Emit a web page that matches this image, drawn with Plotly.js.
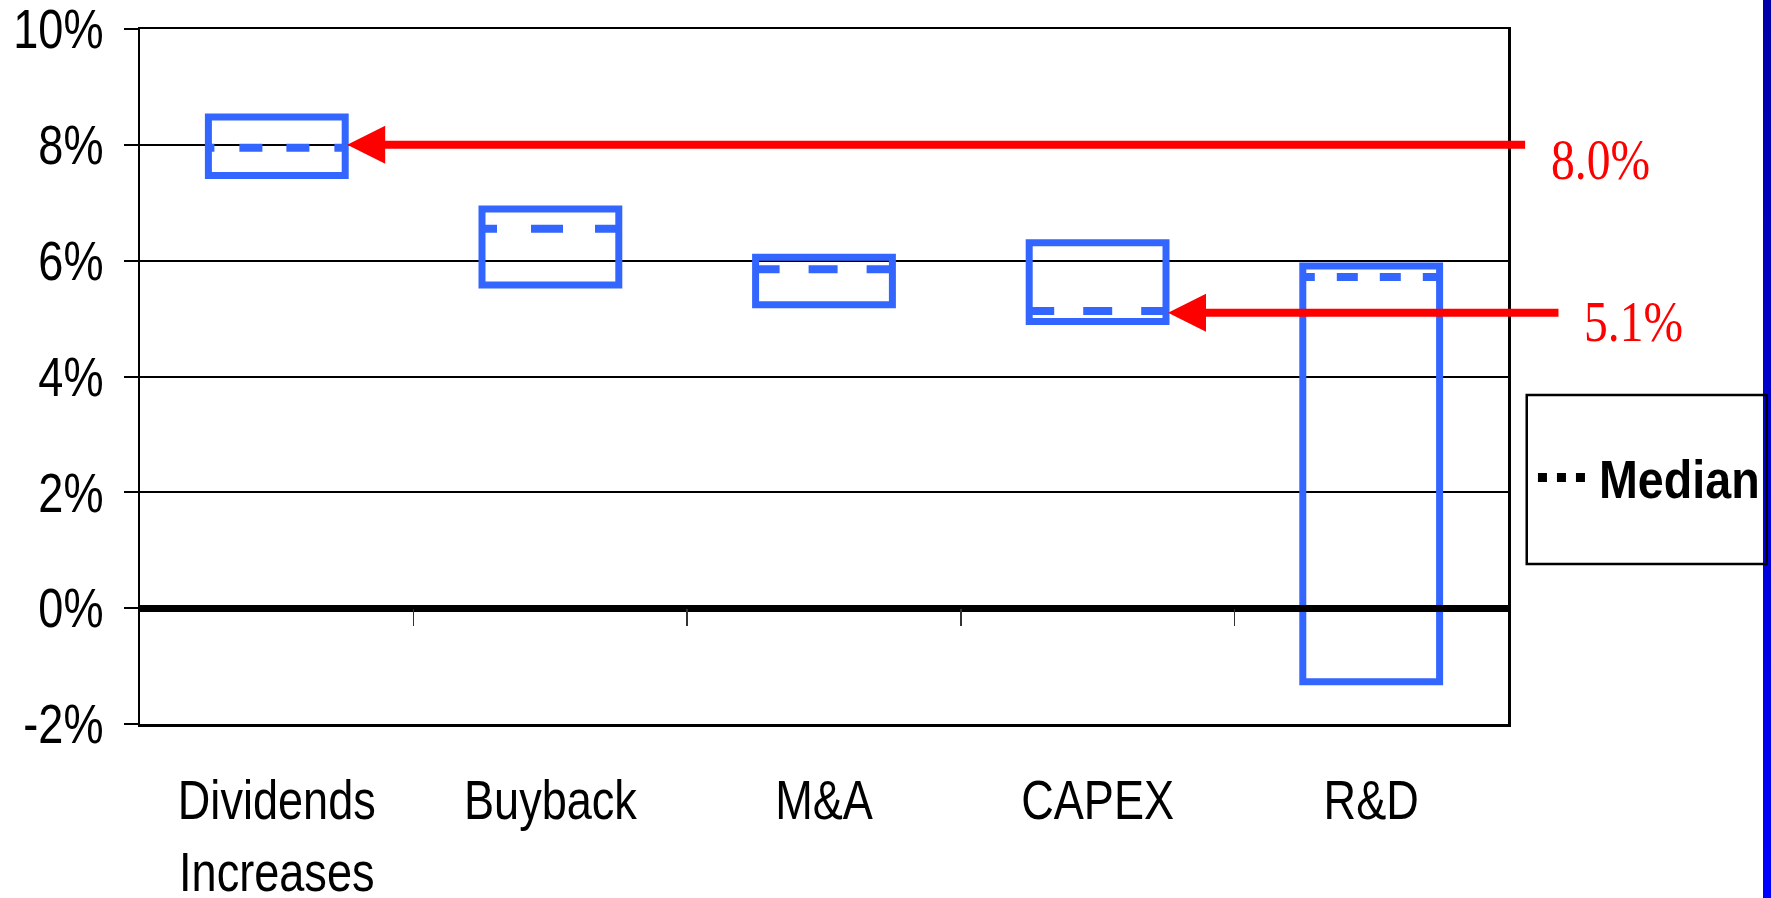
<!DOCTYPE html>
<html>
<head>
<meta charset="utf-8">
<script src="https://cdn.plot.ly/plotly-3.0.1.min.js"></script>
<style>
  html, body { margin: 0; padding: 0; background: #fff; }
  #chart {
    width: 1771px; height: 898px;
    background: linear-gradient(to bottom, #0000a8, #0000ff) right top / 8px 100% no-repeat, #ffffff;
  }
</style>
</head>
<body>
<div id="chart"></div>
<script>
// Spread of growth in each capital-allocation choice
const categories = ['Dividends<br>Increases', 'Buyback', 'M&A', 'CAPEX', 'R&D'];
const rangeHigh = [8.48, 6.89, 6.06, 6.31, 5.91];
const rangeLow = [7.47, 5.58, 5.24, 4.95, -1.27];
const medians = [7.95, 6.55, 5.85, 5.13, 5.72];

// Call-out arrows: which category they point at and the value they mark
const calloutCategory = [0, 3];
const calloutValue = [8.0, 5.1];

const yTickVals = [-2, 0, 2, 4, 6, 8, 10];
const yTickText = ['-2%', '0%', '2%', '4%', '6%', '8%', '10%'];

const medianLabel = 'Median';

// ---- styling ----
const BLUE = '#3366ff';
const RED = '#ff0000';
const SANS = "'Liberation Sans', Arial, sans-serif";
const SERIF = "'Liberation Serif', 'Times New Roman', serif";
const CONDENSE = 0.82;          // horizontal squeeze giving a narrow face
const KEY_CONDENSE = 0.88;
const boxWidth = 0.5;
const yRange = [-2, 10];
const xRange = [-0.5, categories.length - 0.5];
// dash rhythm of each median line
const medianDash = [
  '6px,25px,23px,24px,23px,25px,23px,25px',
  '15px,34px,32px,32px,32px,32px',
  '24px,29px,29px,29px,29px,29px',
  '25px,29px,29px,29px,29px,29px',
  '12px,22px,21px,22px,21px,22px,21px,22px'
];
// where each call-out arrow starts (x, beyond the last category) and its label
const calloutTailX = [4.568, 4.69];
const calloutLabelX = [1.030, 1.054];
const calloutLabelShift = [-15, -9];

const xIdx = categories.map((_, i) => i);

const traces = [];

// range boxes: outline-only floating bars
traces.push({
  type: 'bar',
  x: xIdx,
  base: rangeLow,
  y: rangeHigh.map((h, i) => h - rangeLow[i]),
  width: boxWidth,
  marker: { color: 'rgba(0,0,0,0)', line: { color: BLUE, width: 7 } },
  showlegend: false,
  hoverinfo: 'skip'
});

// median lines across each box
medians.forEach((m, i) => {
  traces.push({
    type: 'scatter',
    mode: 'lines',
    x: [i - boxWidth / 2, i + boxWidth / 2],
    y: [m, m],
    line: { color: BLUE, width: 8, dash: medianDash[i] },
    showlegend: false,
    hoverinfo: 'skip'
  });
});

// carrier for the category divider ticks sitting on the zero line
traces.push({
  type: 'scatter', mode: 'lines', x: [null], y: [null],
  xaxis: 'x2', showlegend: false, hoverinfo: 'skip'
});

const annotations = [];
calloutCategory.forEach((c, k) => {
  annotations.push({
    xref: 'x', yref: 'y', axref: 'x', ayref: 'y',
    x: c + boxWidth / 2, y: calloutValue[k],
    ax: calloutTailX[k], ay: calloutValue[k],
    text: '', showarrow: true,
    arrowhead: 2, arrowsize: 0.95, arrowwidth: 8, arrowcolor: RED,
    standoff: 2
  });
  annotations.push({
    xref: 'paper', yref: 'y',
    x: calloutLabelX[k], y: calloutValue[k],
    xanchor: 'left', yanchor: 'middle', yshift: calloutLabelShift[k],
    text: calloutValue[k].toFixed(1) + '%',
    showarrow: false,
    font: { family: SERIF, size: 58, color: RED }
  });
});

// key for the median line
annotations.push({
  xref: 'paper', yref: 'paper', x: 1.065, y: 0.3525,
  xanchor: 'left', yanchor: 'middle', showarrow: false,
  text: '<b>' + medianLabel + '</b>',
  font: { family: SANS, size: 53, color: '#000' },
  name: 'key'
});

const layout = {
  width: 1771, height: 898,
  margin: { l: 140, r: 263, t: 29, b: 174, pad: 0 },
  paper_bgcolor: 'rgba(0,0,0,0)',
  plot_bgcolor: 'rgba(0,0,0,0)',
  bargap: 0,
  showlegend: false,
  font: { family: SANS, color: '#000', size: 55 },
  xaxis: {
    range: xRange, tickvals: xIdx, ticktext: categories,
    ticks: '', showgrid: false, zeroline: false,
    showline: true, mirror: true, linecolor: '#000', linewidth: 2.5,
    tickfont: { family: SANS, size: 55, color: '#000' },
    ticklabelstandoff: 27,
    ticklabeloverflow: 'allow',
    fixedrange: true
  },
  xaxis2: {
    overlaying: 'x', anchor: 'free',
    position: (0 - yRange[0]) / (yRange[1] - yRange[0]),
    range: xRange,
    tickvals: xIdx.slice(1).map(i => i - 0.5),
    ticks: 'outside', ticklen: 17, tickwidth: 1.5, tickcolor: '#333',
    showticklabels: false, showgrid: false, zeroline: false, showline: false,
    fixedrange: true
  },
  yaxis: {
    range: yRange, tickvals: yTickVals, ticktext: yTickText,
    showgrid: true, gridcolor: '#000', gridwidth: 2,
    zeroline: true, zerolinecolor: '#000', zerolinewidth: 7,
    zerolinelayer: 'above traces',
    showline: true, mirror: true, linecolor: '#000', linewidth: 2.5,
    ticks: 'outside', ticklen: 14, tickwidth: 2, tickcolor: '#000',
    tickfont: { family: SANS, size: 55, color: '#000' },
    ticklabelstandoff: 9,
    ticklabeloverflow: 'allow',
    fixedrange: true
  },
  shapes: [
    { // key frame
      type: 'rect', xref: 'paper', yref: 'paper',
      x0: 1.0137, x1: 1.1891, y0: 0.2302, y1: 0.4734,
      line: { color: '#000', width: 2.5 }, fillcolor: 'rgba(0,0,0,0)'
    },
    { // key swatch: dotted line
      type: 'line', xref: 'paper', yref: 'paper',
      x0: 1.0219, x1: 1.0577, y0: 0.3547, y1: 0.3547,
      line: { color: '#000', width: 9, dash: '9px,10px' }
    }
  ],
  annotations: annotations
};

// narrow the lettering horizontally, pinned at the side each label is aligned to
function condense(nodes, align, factor) {
  nodes.forEach(t => {
    const b = t.getBBox();
    const ax = align === 'left' ? b.x : align === 'right' ? b.x + b.width : b.x + b.width / 2;
    const tr = t.getAttribute('transform') || '';
    t.setAttribute('transform',
      tr + ' translate(' + ax + ',0) scale(' + factor + ',1) translate(' + (-ax) + ',0)');
  });
}

Plotly.newPlot('chart', traces, layout, { displayModeBar: false, staticPlot: true })
  .then(() => {
    const q = s => Array.from(document.querySelectorAll(s));
    condense(q('#chart .ytick text'), 'right', CONDENSE);
    condense(q('#chart .xtick text'), 'center', CONDENSE);
    const notes = q('#chart .annotation-text');
    condense(notes.filter(t => t.textContent === medianLabel), 'left', KEY_CONDENSE);
    condense(notes.filter(t => t.textContent !== medianLabel), 'left', CONDENSE);
  });
</script>
</body>
</html>
